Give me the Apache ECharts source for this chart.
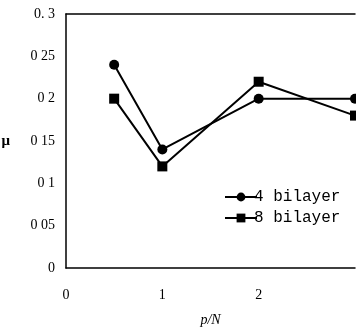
<!DOCTYPE html>
<html><head><meta charset="utf-8">
<script src="https://cdn.jsdelivr.net/npm/echarts@6/dist/echarts.min.js"></script>
<style>html,body{margin:0;padding:0;background:#fff}#c{width:356px;height:327px}</style>
</head><body><div id="c"></div>
<script>
const xValues = [0.5, 1, 2, 3];
const bilayer4 = [0.24, 0.14, 0.20, 0.20];
const bilayer8 = [0.20, 0.12, 0.22, 0.18];
const yTickLabels = {"0":"0","0.05":"0 05","0.1":"0 1","0.15":"0 15","0.2":"0 2","0.25":"0 25","0.3":"0. 3"};
const xTickLabels = {"0":"0","1":"1","2":"2","3":""};
const seriesNames = ["4 bilayer", "8 bilayer"];
const xName = "p/N";
const yName = "μ";

const chart = echarts.init(document.getElementById('c'));
const serif = 'Liberation Serif';
chart.setOption({
  animation: false,
  backgroundColor: '#fff',
  grid: {left: 66, right: 1, top: 14, bottom: 59, containLabel: false, outerBoundsMode: 'none'},
  legend: {
    orient: 'vertical', left: 219, top: 184, itemWidth: 32, itemHeight: 11, itemGap: 5,
    textStyle: {fontFamily: 'Liberation Mono', fontSize: 16, color: '#000', padding: [0,0,0,-8]},
    data: seriesNames
  },
  xAxis: [{
    type: 'value', min: 0, max: 3, interval: 1,
    name: xName, nameLocation: 'middle', nameGap: 45,
    nameTextStyle: {fontFamily: serif, fontStyle: 'italic', fontSize: 14, color: '#000'},
    axisLine: {show: true, onZero: false, lineStyle: {color: '#000', width: 1.5}},
    axisTick: {show: false}, splitLine: {show: false},
    axisLabel: {fontFamily: serif, fontSize: 14, color: '#000', margin: 20,
      formatter: v => xTickLabels[String(v)] ?? ''}
  }, {
    type: 'value', min: 0, max: 3, position: 'top',
    axisLine: {show: true, onZero: false, lineStyle: {color: '#000', width: 1.5}},
    axisTick: {show: false}, axisLabel: {show: false}, splitLine: {show: false}
  }],
  yAxis: {
    type: 'value', min: 0, max: 0.3, interval: 0.05,
    name: yName, nameLocation: 'middle', nameGap: 56, nameRotate: 0,
    nameTextStyle: {fontFamily: serif, fontWeight: 'bold', fontSize: 15, color: '#000'},
    axisLine: {show: true, lineStyle: {color: '#000', width: 1.5}},
    axisTick: {show: false}, splitLine: {show: false},
    axisLabel: {fontFamily: serif, fontSize: 14, color: '#000', margin: 11,
      formatter: v => yTickLabels[String(+v.toFixed(2))] ?? ''}
  },
  series: [{
    name: seriesNames[0], type: 'line', data: xValues.map((x, i) => [x, bilayer4[i]]),
    symbol: 'circle', symbolSize: 10,
    lineStyle: {color: '#000', width: 2}, itemStyle: {color: '#000'}
  }, {
    name: seriesNames[1], type: 'line', data: xValues.map((x, i) => [x, bilayer8[i]]),
    symbol: 'rect', symbolSize: 10,
    lineStyle: {color: '#000', width: 2}, itemStyle: {color: '#000'}
  }]
});
</script></body></html>
